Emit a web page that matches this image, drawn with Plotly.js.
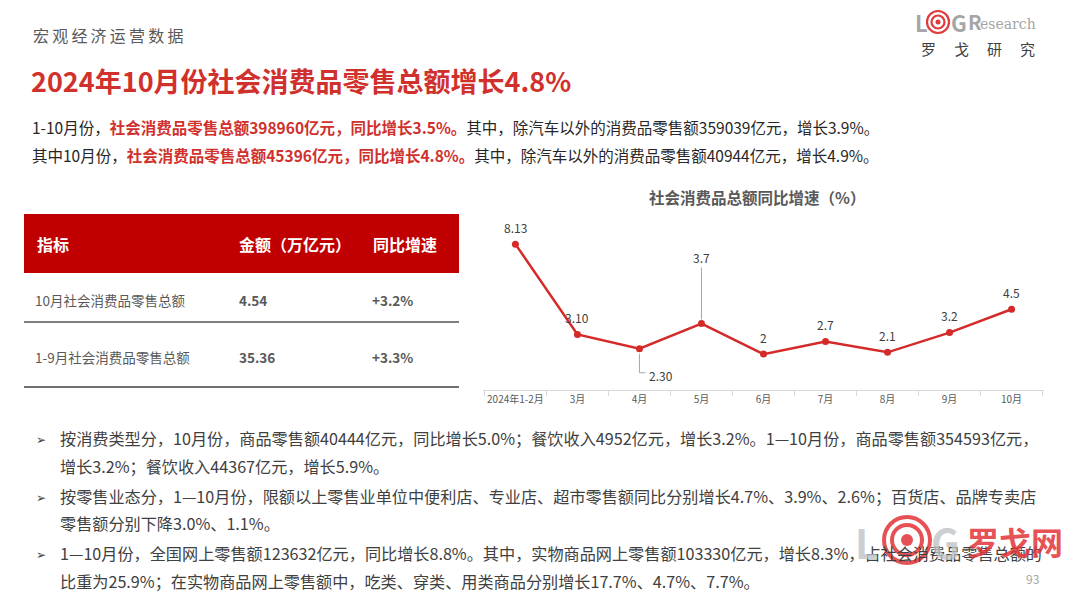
<!DOCTYPE html>
<html><head><meta charset="utf-8">
<script src="https://cdn.plot.ly/plotly-3.0.1.min.js"></script>
<style>html,body{margin:0;padding:0;background:#fff}#chart{width:1080px;height:597px}</style>
</head><body><div id="chart"></div>
<script>
// ---- data ----
const months = ['2024年1-2月','3月','4月','5月','6月','7月','8月','9月','10月'];
const growth = [8.13, 3.10, 2.30, 3.7, 2, 2.7, 2.1, 3.2, 4.5];
const growthLabels = ['8.13','3.10','2.30','3.7','2','2.7','2.1','3.2','4.5'];
const chartTitle = '社会消费品总额同比增速（%）';
const tableHeader = ['指标','金额（万亿元）','同比增速'];
const tableNames = ['10月社会消费品零售总额','1-9月社会消费品零售总额'];
const tableAmounts = ['4.54','35.36'];
const tableGrowth = ['+3.2%','+3.3%'];
const sectionLabel = '宏观经济运营数据';
const mainTitle = '2024年10月份社会消费品零售总额增长4.8%';
const summaryLines = [
  ['1-10月份，','社会消费品零售总额398960亿元，同比增长3.5%。','其中，除汽车以外的消费品零售额359039亿元，增长3.9%。'],
  ['其中10月份，','社会消费品零售总额45396亿元，同比增长4.8%。','其中，除汽车以外的消费品零售额40944亿元，增长4.9%。']
];
const bulletLines = [
  ['按消费类型分，10月份，商品零售额40444亿元，同比增长5.0%；餐饮收入4952亿元，增长3.2%。1—10月份，商品零售额354593亿元，','增长3.2%；餐饮收入44367亿元，增长5.9%。'],
  ['按零售业态分，1—10月份，限额以上零售业单位中便利店、专业店、超市零售额同比分别增长4.7%、3.9%、2.6%；百货店、品牌专卖店','零售额分别下降3.0%、1.1%。'],
  ['1—10月份，全国网上零售额123632亿元，同比增长8.8%。其中，实物商品网上零售额103330亿元，增长8.3%，占社会消费品零售总额的','比重为25.9%；在实物商品网上零售额中，吃类、穿类、用类商品分别增长17.7%、4.7%、7.7%。']
];
const logoName = '罗戈研究';
const watermarkName = '罗戈网';
const pageNumber = '93';

// ---- layout helpers ----
const W = 1080, H = 597;
const px = x => x / W;
const py = y => 1 - y / H;
const FONT = '"Noto Sans CJK SC", "Noto Sans", sans-serif';
const RED = '#C00000';
const TXT = '#404040';

const ann = [];
const shapes = [];
function text(x, y, t, size, color, opts) {
  ann.push(Object.assign({
    xref:'paper', yref:'paper', x: px(x), y: py(y), text: t, showarrow:false,
    xanchor:'left', yanchor:'middle', font:{family:FONT, size:size, color:color}
  }, opts || {}));
}
function rings(cx, cy, radii, width, color) {
  radii.forEach(r => shapes.push({type:'circle', xref:'paper', yref:'paper',
    x0:px(cx - r), x1:px(cx + r), y0:py(cy + r), y1:py(cy - r), line:{color:color, width:width}}));
}
const spaced = (s, sep) => s.split('').join(sep);

// header
text(31, 35, spaced(sectionLabel, '\u2009'), 16, '#595959');
text(29, 80, '<b>' + mainTitle + '</b>', 27, '#D0312D');

// logo top right
text(913, 22, '<b>L</b>', 22, '#A6A6A6');
rings(938, 22, [11, 6.5], 2.2, '#E03A3A');
shapes.push({type:'circle', xref:'paper', yref:'paper', x0:px(935.5), x1:px(940.5), y0:py(24.5), y1:py(19.5), fillcolor:'#E03A3A', line:{width:0}});
text(949, 22, '<b>G</b>', 22, '#A6A6A6');
text(966, 22, '<b>R</b>', 20, '#A6A6A6');
text(978, 24, 'esearch', 15, '#A6A6A6', {font:{family:'"DejaVu Serif", serif', size:14, color:'#A6A6A6'}});
text(919, 49, spaced(logoName, '\u3000\u2009'), 15, '#404040');

// summary lines
const sumY = [127, 155];
summaryLines.forEach((l, i) => {
  text(30, sumY[i], l[0] + '<span style="color:#D0312D"><b>' + l[1] + '</b></span>' + l[2], 15.5, '#262626');
});

// table
shapes.push({type:'rect', xref:'paper', yref:'paper', x0:px(24), x1:px(459), y0:py(273), y1:py(214), fillcolor:RED, line:{width:0}});
const colX = [35, 237, 371];
tableHeader.forEach((h, i) => text(colX[i], 244, '<b>' + h + '</b>', 16, '#FFFFFF'));
const rowY = [300, 357];
const lineY = [322, 387];
tableNames.forEach((n, i) => {
  text(33, rowY[i], n, 13.5, '#595959');
  text(colX[1], rowY[i], '<b>' + tableAmounts[i] + '</b>', 13.5, '#595959');
  text(colX[2] - 1, rowY[i], '<b>' + tableGrowth[i] + '</b>', 13.5, '#595959');
  shapes.push({type:'line', xref:'paper', yref:'paper', x0:px(24), x1:px(459), y0:py(lineY[i]), y1:py(lineY[i]),
    line:{color: i === 0 ? '#7F7F7F' : '#404040', width: i === 0 ? 2.2 : 1.5}});
});

// chart title
ann.push({xref:'paper', yref:'paper', x:px(757), y:py(197), text:'<b>' + chartTitle + '</b>', showarrow:false,
  xanchor:'center', yanchor:'middle', font:{family:FONT, size:15.5, color:'#595959'}});

// bullets
const bulletY = [[438, 466], [496, 523], [553, 581]];
bulletLines.forEach((b, i) => {
  text(34, bulletY[i][0], '➢', 12, '#404040');
  text(58, bulletY[i][0], b[0], 16.15, TXT);
  text(58, bulletY[i][1], b[1], 16.15, TXT);
});

// watermark
text(853, 542, '<b>L</b>', 40, 'rgba(190,194,198,0.8)');
rings(907, 540, [23, 15], 4, 'rgba(226,50,55,0.85)');
shapes.push({type:'circle', xref:'paper', yref:'paper', x0:px(901), x1:px(913), y0:py(546), y1:py(534), fillcolor:'rgba(226,50,55,0.85)', line:{width:0}});
text(929, 542, '<b>G</b>', 40, 'rgba(190,194,198,0.8)');
text(965, 541, '<b>' + watermarkName + '</b>', 32, 'rgba(226,50,55,0.85)');
text(1024, 578, pageNumber, 12, '#A6A6A6');

// data labels
growth.forEach((v, i) => {
  if (i === 2) {
    ann.push({xref:'x', yref:'y', x:months[i], y:v, text:growthLabels[i], showarrow:false,
      xanchor:'left', yanchor:'middle', xshift:8, yshift:-27, font:{family:FONT, size:12, color:'#404040'}});
    shapes.push({type:'path', xref:'x', yref:'y', xsizemode:'pixel', ysizemode:'pixel', xanchor:i, yanchor:v,
      path:'M0,-5 L0,-24 L6,-24', line:{color:'#A6A6A6', width:1}});
  } else if (i === 3) {
    ann.push({xref:'x', yref:'y', x:months[i], y:v, text:growthLabels[i], showarrow:true, arrowhead:0,
      arrowwidth:1, arrowcolor:'#A6A6A6', ax:0, ay:-66, standoff:4, font:{family:FONT, size:12, color:'#404040'}});
  } else {
    ann.push({xref:'x', yref:'y', x:months[i], y:v, text:growthLabels[i], showarrow:false,
      yanchor:'middle', yshift:17, font:{family:FONT, size:12, color:'#404040'}});
  }
});

const trace = {
  type:'scatter', mode:'lines+markers', x:months, y:growth,
  line:{color:'#D42A2A', width:2.5}, marker:{color:'#D42A2A', size:7},
  hoverinfo:'skip', showlegend:false
};

const layout = {
  width:W, height:H, margin:{l:0, r:0, t:0, b:0},
  paper_bgcolor:'#FFFFFF', plot_bgcolor:'rgba(0,0,0,0)',
  font:{family:FONT},
  xaxis:{type:'category', domain:[px(483), px(1044)], showline:true, linecolor:'#D9D9D9', linewidth:1,
    ticks:'outside', tickson:'boundaries', ticklen:5, tickcolor:'#D9D9D9', showgrid:false, zeroline:false,
    tickangle:0, tickfont:{family:FONT, size:10, color:'#595959'}, fixedrange:true},
  yaxis:{domain:[py(390), py(210.6)], range:[0, 10], visible:false, fixedrange:true},
  annotations: ann, shapes: shapes
};

Plotly.newPlot('chart', [trace], layout, {displayModeBar:false, staticPlot:true});
</script></body></html>
